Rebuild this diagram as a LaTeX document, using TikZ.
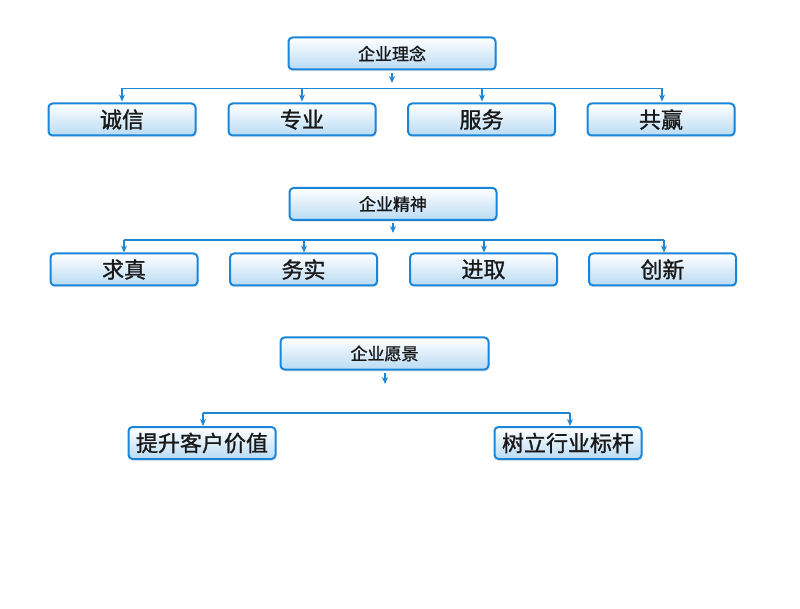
\documentclass[tikz,border=0pt]{standalone}
\usepackage{fontspec}
\setmainfont{Noto Sans CJK SC}
\newfontfamily\medfont{Noto Sans CJK SC}[FakeBold=1.2]
\usetikzlibrary{arrows.meta,shadows}
\definecolor{boxblue}{HTML}{1A86D9}
\definecolor{boxlight}{HTML}{B9DBF4}
\definecolor{lineblue}{HTML}{1F86D4}
\tikzset{
  box/.style={draw=boxblue, line width=2pt, rounded corners=4pt,
    top color=white, bottom color=boxlight, minimum height=32pt,
    inner sep=0pt, text=black!90,
    drop shadow={shadow xshift=1pt, shadow yshift=-2pt, opacity=0.15}},
  headbox/.style={box, minimum width=207pt, font=\medfont\fontsize{17}{19}\selectfont},
  itembox/.style={box, minimum width=147pt, font=\medfont\fontsize{22}{24}\selectfont},
  conn/.style={draw=lineblue, line width=1.2pt},
  arr/.style={conn, -{Stealth[length=7pt,width=6pt]}},
}
\begin{document}
\begin{tikzpicture}[x=1pt,y=-1pt]
\useasboundingbox (0,0) rectangle (800,609);
% group 1
\node[headbox] (h1) at (392,53.5) {企业理念};
\node[itembox] (a1) at (122,119.5) {诚信};
\node[itembox] (a2) at (302,119.5) {专业};
\node[itembox] (a3) at (481.5,119.5) {服务};
\node[itembox] (a4) at (661,119.5) {共赢};
\coordinate (h1s) at (392,73);
\coordinate (h1e) at (392,83);
\draw[arr] (h1s) -- (h1e);
\coordinate (l1a) at (122,88.5);
\coordinate (l1b) at (662,88.5);
\draw[conn] (l1a) -- (l1b);
\foreach \x in {122,302,482,662}{
  \draw[arr] (\x,88.5) -- (\x,101.5);
}
% group 2
\node[headbox] (h2) at (393,204) {企业精神};
\node[itembox] (b1) at (124,269.5) {求真};
\node[itembox] (b2) at (303.5,269.5) {务实};
\node[itembox] (b3) at (483.5,269.5) {进取};
\node[itembox] (b4) at (662.5,269.5) {创新};
\coordinate (h2s) at (393,223);
\coordinate (h2e) at (393,233);
\draw[arr] (h2s) -- (h2e);
\coordinate (l2a) at (124,240);
\coordinate (l2b) at (664,240);
\draw[conn] (l2a) -- (l2b);
\foreach \x in {124,304,484,664}{
  \draw[arr] (\x,240) -- (\x,252.5);
}
% group 3
\node[headbox, minimum width=208pt] (h3) at (384.5,353.5) {企业愿景};
\node[itembox] (c1) at (202,443) {提升客户价值};
\node[itembox] (c2) at (568,443) {树立行业标杆};
\coordinate (h3s) at (385,373);
\coordinate (h3e) at (385,384);
\draw[arr] (h3s) -- (h3e);
\coordinate (l3a) at (203,413);
\coordinate (l3b) at (570,413);
\draw[conn] (l3a) -- (l3b);
\draw[arr] (l3a) -- (203,426);
\draw[arr] (l3b) -- (570,426);
\end{tikzpicture}
\end{document}
